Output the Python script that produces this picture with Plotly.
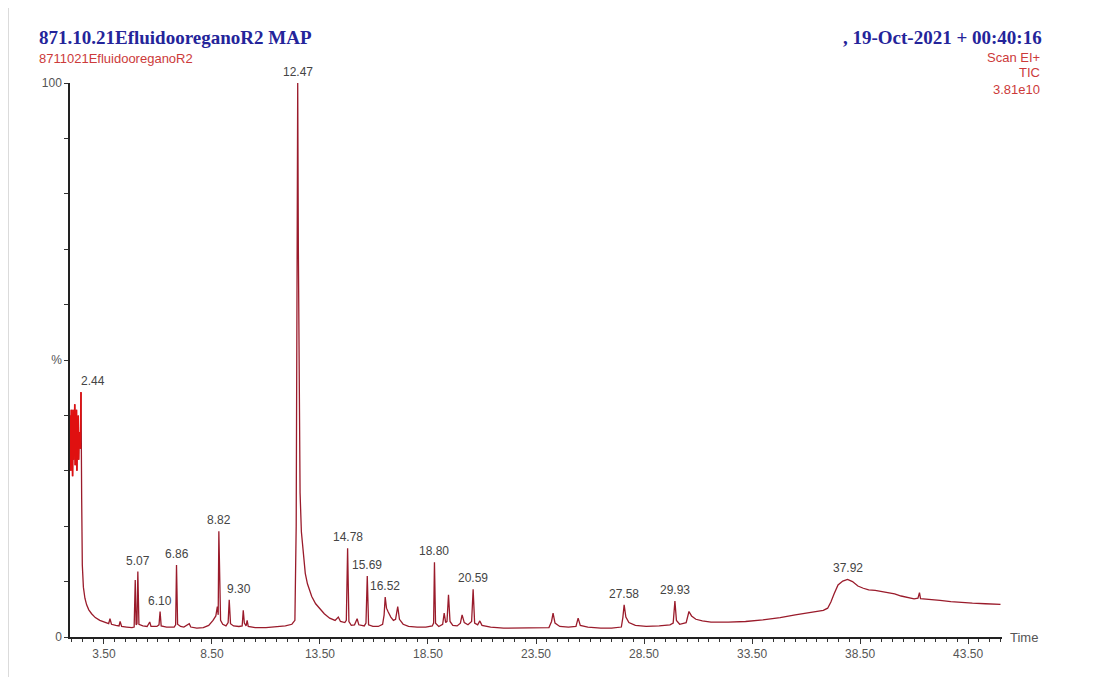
import plotly.graph_objects as go

# ---- data (time in min, relative intensity %) ----
time_min = [
    1.93, 1.95, 1.97, 1.99, 2.01, 2.03, 2.05, 2.07, 2.09, 2.11, 2.13, 2.15, 2.17, 2.19,
    2.21, 2.23, 2.25, 2.27, 2.29, 2.31, 2.33, 2.35, 2.37, 2.39, 2.41, 2.44,
    2.47, 2.50, 2.55, 2.62, 2.70, 2.80, 2.93, 3.10, 3.31, 3.55, 3.72, 3.78, 3.85, 4.05,
    4.20, 4.25, 4.32, 4.55, 4.80, 4.90, 4.95, 4.99, 5.03, 5.07, 5.12, 5.30, 5.50, 5.62,
    5.68, 5.95, 6.05, 6.10, 6.15, 6.40, 6.75, 6.82, 6.86, 6.91, 7.05, 7.20, 7.45, 7.52,
    7.80, 8.10, 8.35, 8.55, 8.68, 8.75, 8.79, 8.82, 8.86, 8.90, 9.00, 9.15, 9.25, 9.30,
    9.36, 9.50, 9.75, 9.90, 9.95, 10.00, 10.08, 10.13, 10.18, 10.50, 11.00, 11.50, 11.90,
    12.20, 12.34, 12.40, 12.44, 12.47, 12.50, 12.54, 12.58, 12.64, 12.72, 12.82, 12.92,
    13.02, 13.12, 13.30, 13.50, 13.70, 13.95, 14.20, 14.35, 14.45, 14.65, 14.72, 14.78,
    14.84, 14.95, 15.10, 15.22, 15.30, 15.55, 15.63, 15.69, 15.75, 15.95, 16.20, 16.40,
    16.47, 16.52, 16.58, 16.66, 16.78, 16.90, 17.00, 17.10, 17.18, 17.35, 17.60, 18.00,
    18.40, 18.70, 18.76, 18.80, 18.85, 19.00, 19.18, 19.25, 19.32, 19.38, 19.45, 19.52,
    19.65, 19.85, 20.00, 20.08, 20.18, 20.35, 20.52, 20.59, 20.66, 20.80, 20.90, 21.00,
    21.40, 22.00, 22.80, 23.60, 24.10, 24.22, 24.29, 24.38, 24.60, 25.00, 25.35, 25.45,
    25.55, 25.90, 26.50, 27.00, 27.45, 27.52, 27.58, 27.66, 27.80, 28.10, 28.60, 29.20,
    29.70, 29.85, 29.93, 30.00, 30.15, 30.45, 30.58, 30.70, 30.90, 31.20, 31.60, 32.40,
    33.20, 34.00, 34.80, 35.50, 36.30, 36.80, 37.00, 37.15, 37.30, 37.48, 37.70, 37.92,
    38.15, 38.40, 38.65, 38.90, 39.20, 39.50, 39.80, 40.10, 40.40, 40.70, 41.00, 41.18,
    41.25, 41.30, 41.70, 42.20, 42.70, 43.20, 43.70, 44.30, 45.00,
]
intensity_pct = [
    33, 40, 30, 41, 34, 39, 29, 41, 32, 40, 35, 42, 31, 38,
    33, 41, 30, 39, 34, 40, 32, 37, 35, 36.5, 34, 44.2,
    25, 13, 9.0, 7.0, 5.8, 4.9, 4.2, 3.5, 3.0, 2.6, 2.4, 3.3, 2.3, 2.1,
    2.0, 2.8, 1.9, 1.8, 1.7, 1.8, 10.3, 2.2, 2.4, 11.8, 2.3, 2.0, 1.9, 2.7,
    1.9, 1.9, 2.2, 4.6, 2.0, 1.8, 1.8, 2.2, 13.0, 2.3, 1.9, 1.8, 2.4, 1.8,
    1.6, 1.7, 2.1, 3.0, 3.8, 5.5, 4.0, 19.1, 6.5, 3.0, 2.3, 2.0, 2.6, 6.7,
    2.4, 2.0, 1.9, 2.0, 4.8, 2.5, 2.0, 3.0, 1.9, 1.7, 1.7, 1.8, 2.0,
    2.3, 3.0, 20, 75, 100, 70, 40, 26, 19, 15, 11.5, 9.6,
    8.3, 7.3, 6.0, 5.0, 4.2, 3.4, 3.0, 3.6, 2.8, 2.6, 3.0, 16.0,
    2.8, 2.1, 2.2, 3.3, 2.2, 2.0, 2.5, 11.0, 2.2, 1.9, 1.9, 2.3,
    4.0, 7.2, 5.2, 4.5, 3.6, 3.0, 3.2, 5.5, 3.2, 2.3, 1.9, 1.8,
    1.8, 2.0, 2.5, 13.5, 2.5, 1.9, 2.3, 4.3, 2.6, 2.8, 7.6, 2.8,
    2.1, 2.0, 2.5, 4.0, 2.6, 2.2, 2.8, 8.6, 2.5, 2.2, 2.9, 2.1,
    1.8, 1.6, 1.6, 1.6, 1.7, 2.8, 4.3, 2.5, 1.9, 1.8, 1.9, 3.4,
    2.1, 1.8, 1.6, 1.6, 1.8, 3.5, 5.8, 3.6, 2.6, 2.1, 1.9, 2.0,
    2.2, 2.5, 6.5, 3.0, 2.3, 2.6, 4.6, 3.8, 3.2, 2.9, 2.7, 2.7,
    2.8, 3.1, 3.5, 4.0, 4.5, 4.8, 5.2, 6.3, 7.8, 9.4, 10.1, 10.4,
    10.0, 9.2, 8.8, 8.5, 8.4, 8.2, 8.1, 7.8, 7.4, 7.1, 6.9, 7.0,
    8.0, 6.9, 6.8, 6.6, 6.4, 6.2, 6.1, 6.0, 5.9,
]

peak_times = [2.44, 5.07, 6.10, 6.86, 8.82, 9.30, 12.47, 14.78, 15.69, 16.52, 18.80, 20.59, 27.58, 29.93, 37.92]
peak_labels = ["2.44", "5.07", "6.10", "6.86", "8.82", "9.30", "12.47", "14.78", "15.69", "16.52", "18.80", "20.59", "27.58", "29.93", "37.92"]

x_tick_vals = [3.5, 8.5, 13.5, 18.5, 23.5, 28.5, 33.5, 38.5, 43.5]
x_tick_text = ["3.50", "8.50", "13.50", "18.50", "23.50", "28.50", "33.50", "38.50", "43.50"]
y_tick_vals = [0, 10, 20, 30, 40, 50, 60, 70, 80, 90, 100]
y_tick_text = ["0", "", "", "", "", "%", "", "", "", "", "100"]

title_left = "871.10.21EfluidooreganoR2 MAP"
subtitle_left = "8711021EfluidooreganoR2"
title_right = ", 19-Oct-2021 + 00:40:16"
info_right = ["Scan EI+", "TIC", "3.81e10"]

# ---- figure ----
LINE = "#9a1b2b"
SANS = "Liberation Sans, Arial"
SERIF = "Liberation Serif, Times New Roman"
fig = go.Figure()

n_noise = time_min.index(2.44) + 1
fig.add_trace(go.Scatter(x=time_min, y=intensity_pct, mode="lines",
                         line=dict(color=LINE, width=1.3), hoverinfo="skip",
                         showlegend=False))
fig.add_trace(go.Scatter(x=time_min[:n_noise], y=intensity_pct[:n_noise], mode="lines",
                         line=dict(color="#e01010", width=1.6), hoverinfo="skip",
                         showlegend=False))

annotations = []
shift_x = {"2.44": 12, "9.30": 10}
for t, lab in zip(peak_times, peak_labels):
    yv = intensity_pct[time_min.index(t)]
    annotations.append(dict(x=t, y=yv, xref="x", yref="y", text=lab, showarrow=False,
                            xanchor="center", yanchor="bottom", yshift=2,
                            xshift=shift_x.get(lab, 0),
                            font=dict(family=SANS, size=12, color="#444444")))

annotations += [
    dict(x=-0.0354, y=1.083, xref="paper", yref="paper", text="<b>" + title_left + "</b>",
         showarrow=False, xanchor="left", yanchor="middle",
         font=dict(family=SERIF, size=19, color="#24249a")),
    dict(x=-0.0354, y=1.045, xref="paper", yref="paper", text=subtitle_left,
         showarrow=False, xanchor="left", yanchor="middle",
         font=dict(family=SANS, size=13, color="#cc3a3a")),
    dict(x=1.045, y=1.083, xref="paper", yref="paper", text="<b>" + title_right + "</b>",
         showarrow=False, xanchor="right", yanchor="middle",
         font=dict(family=SERIF, size=19, color="#24249a")),
    dict(x=1.0064, y=0, xref="paper", yref="paper", text="Time",
         showarrow=False, xanchor="left", yanchor="middle",
         font=dict(family=SANS, size=13, color="#555555")),
]
for i, txt in enumerate(info_right):
    annotations.append(dict(x=1.043, y=(637 - (57 + 16 * i)) / 554, xref="paper", yref="paper",
                            text=txt, showarrow=False, xanchor="right", yanchor="middle",
                            font=dict(family=SANS, size=13, color="#cc3a3a")))

# page body adds an 8 px offset; margins compensate so the plot area sits at x 70-1002, y 83-637
fig.update_layout(
    width=1102, height=677, autosize=False,
    margin=dict(l=62, r=108, t=75, b=48),
    paper_bgcolor="white", plot_bgcolor="white",
    annotations=annotations,
    shapes=[
        dict(type="line", xref="paper", yref="paper", x0=-0.0665, x1=1.11, y0=1.1408, y1=1.1408,
             line=dict(color="#d0d0d0", width=1.5)),
        dict(type="line", xref="paper", yref="paper", x0=-0.0665, x1=-0.0665, y0=1.1408, y1=-0.08,
             line=dict(color="#d0d0d0", width=1.5)),
    ],
)
fig.update_xaxes(range=[1.93, 45.07], showgrid=False, zeroline=False,
                 showline=True, linecolor="#222222", linewidth=1.5,
                 tickvals=x_tick_vals, ticktext=x_tick_text, ticks="outside", ticklen=5,
                 tickcolor="#333333",
                 minor=dict(dtick=0.5, tick0=3.5, ticks="outside", ticklen=3, tickcolor="#333333"),
                 tickfont=dict(family=SANS, size=12, color="#555555"))
fig.update_yaxes(range=[0, 100], showgrid=False, zeroline=False,
                 showline=True, linecolor="#222222", linewidth=1.5,
                 tickvals=y_tick_vals, ticktext=y_tick_text, ticks="outside", ticklen=4,
                 tickcolor="#333333",
                 tickfont=dict(family=SANS, size=12, color="#555555"))

fig.write_html("out.html")
